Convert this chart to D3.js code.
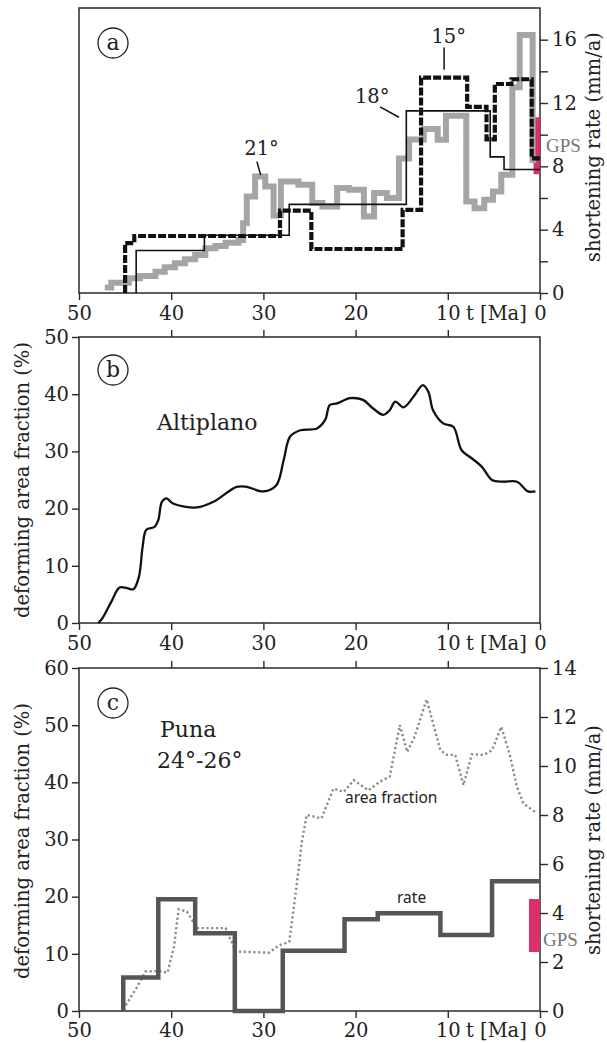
<!DOCTYPE html>
<html>
<head>
<meta charset="utf-8">
<script src="https://cdn.jsdelivr.net/npm/d3@7"></script>
<style>
  body { margin: 0; background: #fff; }
  svg { display: block; }
  text { font-family: "DejaVu Serif", serif; fill: #222; }
</style>
</head>
<body>
<svg></svg>
<script>
// ages (Ma) of the x ticks
const ageTicks = [50, 40, 30, 20, 10, 0];
const innerAgeTicks = [40, 30, 20, 10];

// (a) shortening rates, step series: rate holds from age[i] to age[i+1]
const grayAge  = [47.2, 46.5, 44.6, 43.4, 41.7, 40.7, 39.6, 38.5, 37.4, 36.3, 35.2, 34.1, 32.7, 32.2, 31.8, 30.9, 29.8, 28.9, 28.1, 26.2, 24.7, 23.6, 22.0, 20.7, 19.1, 18.0, 16.6, 15.3, 14.2, 12.6, 11.1, 10.2, 8.0, 7.1, 6.05, 5.1, 4.2, 3.0, 2.2, 0.8];
const grayRate = [0.35, 0.65, 0.93, 1.08, 1.35, 1.62, 1.88, 2.13, 2.4, 2.83, 2.97, 3.18, 3.35, 4.4, 6.1, 7.36, 6.73, 4.9, 7.04, 6.84, 5.68, 5.46, 6.63, 6.52, 4.83, 6.31, 6.0, 8.5, 9.7, 10.36, 9.68, 11.2, 5.78, 5.36, 5.89, 6.41, 7.47, 13.0, 16.3, 8.4];
const grayEnd = 0.4;

const dashAge  = [45.0, 44.0, 28.2, 24.8, 14.9, 12.9, 7.9, 5.8, 4.9, 3.1, 0.9];
const dashRate = [3.15, 3.6, 5.2, 2.78, 5.25, 13.6, 11.75, 9.7, 13.2, 13.5, 8.5];

const solidAge  = [43.8, 36.4, 27.2, 14.5, 5.4, 3.9];
const solidRate = [2.68, 3.65, 5.6, 11.5, 8.6, 7.8];

const gpsA = [7.5, 11.1];
const rateTicksA = [0, 2, 4, 6, 8, 10, 12, 14, 16];

// (b) Altiplano deforming area fraction (%)
const altiAge  = [47.9, 47.4, 46.5, 45.6, 44.8, 44.1, 43.5, 43.1, 42.7, 41.8, 41.4, 41.0, 40.5, 39.8, 37.2, 35.4, 32.9, 31.8, 30.0, 28.6, 27.8, 27.1, 26.0, 24.2, 23.3, 22.8, 22.0, 20.6, 19.2, 18.1, 17.0, 16.3, 15.7, 14.8, 13.7, 12.7, 12.1, 11.6, 10.5, 9.4, 8.5, 7.4, 6.3, 5.2, 4.0, 2.5, 1.3, 0.5];
const altiFrac = [0, 1.0, 3.7, 6.2, 6.1, 5.9, 8.1, 13.3, 16.3, 16.8, 18.0, 21.2, 21.8, 20.9, 20.2, 21.2, 23.8, 23.8, 23.0, 24.1, 28.5, 32.6, 33.7, 34.0, 35.5, 38.1, 38.4, 39.3, 39.0, 37.5, 36.4, 37.2, 38.7, 37.7, 39.6, 41.6, 40.4, 37.2, 34.9, 34.3, 30.2, 28.8, 27.3, 25.0, 24.7, 24.7, 23.0, 23.0];
const fracTicksB = [0, 10, 20, 30, 40, 50];

// (c) Puna 24-26
const punaRateAge = [45.2, 41.4, 37.4, 33.1, 27.9, 21.2, 17.6, 10.8, 5.2];
const punaRate    = [1.37, 4.56, 3.17, 0, 2.46, 3.74, 3.99, 3.1, 5.3];
const punaFracAge = [45.2, 43.7, 42.8, 41.3, 40.4, 39.7, 39.2, 38.3, 37.5, 37.2, 34.1, 33.0, 29.4, 28.3, 27.2, 26.5, 25.8, 25.3, 23.7, 22.4, 21.3, 20.2, 18.6, 17.4, 16.3, 15.2, 14.4, 13.6, 12.3, 10.8, 10.1, 9.2, 8.3, 7.4, 6.1, 5.2, 4.2, 3.3, 2.5, 1.8, 0.5];
const punaFrac    = [0.3, 4.2, 6.9, 7.0, 6.7, 11.2, 17.8, 17.4, 15.3, 14.5, 14.5, 10.4, 10.2, 11.5, 12.1, 20.6, 29.9, 34.3, 33.7, 38.9, 38.3, 40.4, 38.6, 40.1, 41.0, 50.0, 45.3, 48.0, 54.5, 45.6, 44.8, 44.8, 39.5, 44.9, 44.8, 45.6, 49.7, 45.0, 39.2, 36.3, 34.8];
const gpsC = [2.41, 4.57];
const fracTicksC = [0, 10, 20, 30, 40, 50, 60];
const rateTicksC = [0, 2, 4, 6, 8, 10, 12, 14];

const W = 607, H = 1043;
const L = 79, R = 540;
const axisColor = '#2a2a2a';
const tickFont = 19.5;

const svg = d3.select('svg').attr('width', W).attr('height', H);

const x = d3.scaleLinear().domain([50, 0]).range([L, R]);
const yA = d3.scaleLinear().domain([0, 18]).range([293, 8]);
const yB = d3.scaleLinear().domain([0, 50]).range([623, 337]);
const yC = d3.scaleLinear().domain([0, 60]).range([1011, 668]);
const yCr = d3.scaleLinear().domain([0, 14]).range([1011, 668]);

function steps(ages, vals, end, startVal) {
  const pts = [];
  if (startVal !== undefined) pts.push([ages[0], startVal]);
  ages.forEach((a, i) => pts.push([a, vals[i]]));
  pts.push([end, vals[vals.length - 1]]);
  return pts;
}

function styleAxis(g) {
  g.select('.domain').remove();
  g.selectAll('.tick line').attr('stroke', axisColor).attr('stroke-width', 1.4);
  g.selectAll('.tick text')
    .attr('font-size', tickFont)
    .attr('fill', '#222');
}

function box(y0, y1) {
  svg.append('rect')
    .attr('x', L).attr('y', y0)
    .attr('width', R - L).attr('height', y1 - y0)
    .attr('fill', 'none')
    .attr('stroke', axisColor)
    .attr('stroke-width', 1.5);
}

function bottomAxis(yPos, pad) {
  svg.append('g')
    .attr('transform', `translate(0,${yPos})`)
    .call(d3.axisBottom(x).tickValues(ageTicks).tickSize(7).tickPadding(pad).tickSizeOuter(0).tickFormat(d3.format('d')))
    .call(styleAxis);
  svg.append('text')
    .attr('x', 466).attr('y', yPos + 7 + pad)
    .attr('dy', '0.71em')
    .attr('font-size', tickFont)
    .text('t [Ma]');
}

function topTicks(yPos) {
  svg.append('g')
    .attr('transform', `translate(0,${yPos})`)
    .call(d3.axisTop(x).tickValues(innerAgeTicks).tickSize(7).tickFormat(''))
    .call(styleAxis);
}

function circled(letter, cx, cy) {
  svg.append('circle').attr('cx', cx).attr('cy', cy).attr('r', 15)
    .attr('fill', 'none').attr('stroke', '#222').attr('stroke-width', 1.3);
  svg.append('text').attr('x', cx).attr('y', cy + 6.5)
    .attr('text-anchor', 'middle').attr('font-size', 22).text(letter);
}

function vLabel(txt, cx, cy, size) {
  svg.append('text')
    .attr('transform', `translate(${cx},${cy}) rotate(-90)`)
    .attr('text-anchor', 'middle')
    .attr('font-size', size)
    .text(txt);
}

function gpsLabel(px, py) {
  svg.append('text')
    .attr('x', px).attr('y', py)
    .attr('font-size', 19)
    .style('font-family', '"Liberation Serif", serif')
    .style('fill', '#777')
    .text('GPS');
}

function sansNote(txt, px, py) {
  svg.append('text')
    .attr('x', px).attr('y', py)
    .attr('font-size', 15.5)
    .style('font-family', '"Noto Sans", sans-serif')
    .style('fill', '#222')
    .text(txt);
}

// ---------- panel (a) ----------
box(yA(18), yA(0));
bottomAxis(yA(0), 6);
svg.append('g')
  .attr('transform', `translate(${R},0)`)
  .call(d3.axisRight(yA).tickValues(rateTicksA).tickSize(8).tickPadding(4)
    .tickFormat(d => d % 4 === 0 ? d : ''))
  .call(styleAxis);
vLabel('shortening rate (mm/a)', 600, 147, 19.5);

svg.append('rect')
  .attr('x', x(0.7)).attr('y', yA(gpsA[1]))
  .attr('width', x(0) - x(0.7)).attr('height', yA(gpsA[0]) - yA(gpsA[1]))
  .attr('fill', '#d92f6b');
gpsLabel(546, 152);

const lineA = d3.line().x(d => x(d[0])).y(d => yA(d[1])).curve(d3.curveStepAfter);

svg.append('path')
  .attr('d', lineA(steps(grayAge, grayRate, grayEnd)))
  .attr('fill', 'none').attr('stroke', '#a5a5a5').attr('stroke-width', 6);

svg.append('path')
  .attr('d', lineA(steps(solidAge, solidRate, 0, 0)))
  .attr('fill', 'none').attr('stroke', '#111').attr('stroke-width', 1.6);

svg.append('path')
  .attr('d', lineA(steps(dashAge, dashRate, 0, 0)))
  .attr('fill', 'none').attr('stroke', '#111').attr('stroke-width', 4.2)
  .attr('stroke-dasharray', '8,2');

// latitude labels with leaders
const latLabels = [
  { txt: '21°', t: 30.2, r: 8.7, l: [[30.7, 8.3], [30.3, 7.45]] },
  { txt: '18°', t: 18.2, r: 12.0, l: [[17.35, 11.75], [15.3, 11.1]] },
  { txt: '15°', t: 9.9, r: 15.8, l: [[10.4, 15.5], [10.4, 14.1]] },
];
latLabels.forEach(d => {
  svg.append('text').attr('x', x(d.t)).attr('y', yA(d.r))
    .attr('text-anchor', 'middle').attr('font-size', 19.5).text(d.txt);
  svg.append('line')
    .attr('x1', x(d.l[0][0])).attr('y1', yA(d.l[0][1]))
    .attr('x2', x(d.l[1][0])).attr('y2', yA(d.l[1][1]))
    .attr('stroke', '#111').attr('stroke-width', 1.5);
});
circled('a', 113, 43);

// ---------- panel (b) ----------
box(yB(50), yB(0));
topTicks(yB(50));
bottomAxis(yB(0), 6);
svg.append('g')
  .attr('transform', `translate(${L},0)`)
  .call(d3.axisLeft(yB).tickValues(fracTicksB).tickSize(7).tickPadding(3))
  .call(styleAxis);
vLabel('deforming area fraction (%)', 29, 480, 19.5);

svg.append('path')
  .datum(altiAge.map((a, i) => [a, altiFrac[i]]))
  .attr('d', d3.line().x(d => x(d[0])).y(d => yB(d[1])).curve(d3.curveCatmullRom.alpha(0.5)))
  .attr('fill', 'none').attr('stroke', '#111').attr('stroke-width', 2.3);

svg.append('text').attr('x', 157).attr('y', 430).attr('font-size', 22).text('Altiplano');
circled('b', 113, 370);

// ---------- panel (c) ----------
box(yC(60), yC(0));
topTicks(yC(60));
bottomAxis(yC(0), 5);
svg.append('g')
  .attr('transform', `translate(${L},0)`)
  .call(d3.axisLeft(yC).tickValues(fracTicksC).tickSize(7).tickPadding(3))
  .call(styleAxis);
svg.append('g')
  .attr('transform', `translate(${R},0)`)
  .call(d3.axisRight(yCr).tickValues(rateTicksC).tickSize(8).tickPadding(4))
  .call(styleAxis);
vLabel('deforming area fraction (%)', 29, 841, 19.5);
vLabel('shortening rate (mm/a)', 600, 840, 19.5);

svg.append('rect')
  .attr('x', x(1.2)).attr('y', yCr(gpsC[1]))
  .attr('width', x(0) - x(1.2)).attr('height', yCr(gpsC[0]) - yCr(gpsC[1]))
  .attr('fill', '#d92f6b');
gpsLabel(543, 946);

svg.append('path')
  .datum(punaFracAge.map((a, i) => [a, punaFrac[i]]))
  .attr('d', d3.line().x(d => x(d[0])).y(d => yC(d[1])))
  .attr('fill', 'none').attr('stroke', '#8a8a8a').attr('stroke-width', 2.4)
  .attr('stroke-dasharray', '2.2,2.6');

svg.append('path')
  .attr('d', d3.line().x(d => x(d[0])).y(d => yCr(d[1])).curve(d3.curveStepAfter)(steps(punaRateAge, punaRate, 0, 0)))
  .attr('fill', 'none').attr('stroke', '#555').attr('stroke-width', 4.5);

sansNote('area fraction', 345, 803);
sansNote('rate', 397, 903);

svg.append('text').attr('x', 160).attr('y', 737).attr('font-size', 22).text('Puna');
svg.append('text').attr('x', 157).attr('y', 768).attr('font-size', 22).text('24°-26°');
circled('c', 113, 703);
</script>
</body>
</html>
